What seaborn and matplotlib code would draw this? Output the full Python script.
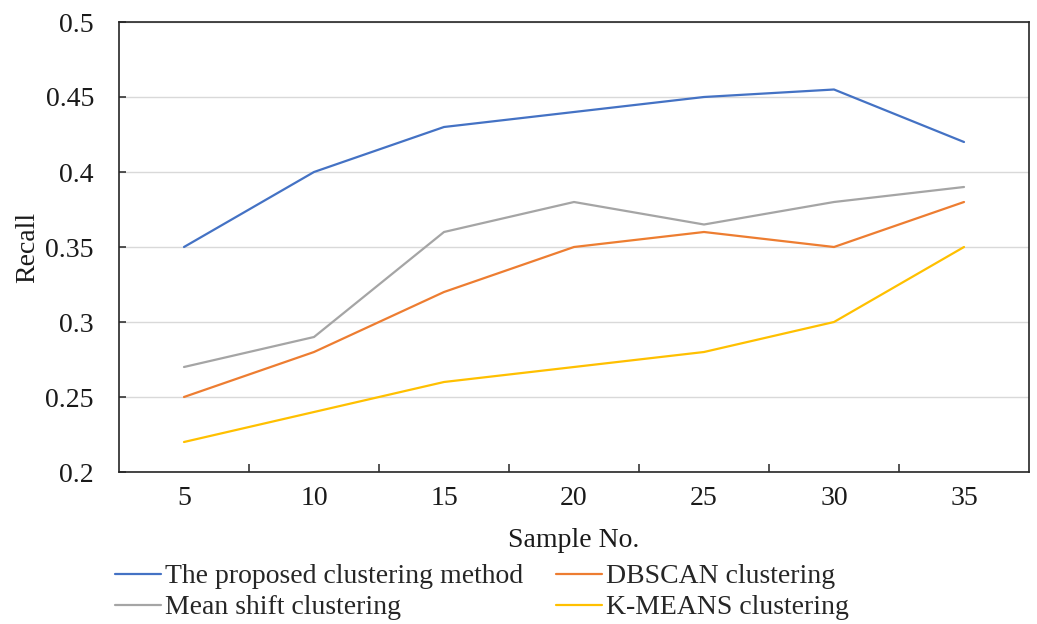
import numpy as np
import pandas as pd
import matplotlib
matplotlib.use("Agg")
import matplotlib.pyplot as plt
import seaborn as sns
from matplotlib.ticker import FixedLocator

samples = ["5", "10", "15", "20", "25", "30", "35"]
proposed = [0.35, 0.40, 0.43, 0.44, 0.45, 0.455, 0.42]
dbscan = [0.25, 0.28, 0.32, 0.35, 0.36, 0.35, 0.38]
meanshift = [0.27, 0.29, 0.36, 0.38, 0.365, 0.38, 0.39]
kmeans = [0.22, 0.24, 0.26, 0.27, 0.28, 0.30, 0.35]

names = ["The proposed clustering method", "DBSCAN clustering",
         "Mean shift clustering", "K-MEANS clustering"]
series = [proposed, dbscan, meanshift, kmeans]
colors = ["#4472C4", "#ED7D31", "#A5A5A5", "#FFC000"]

yticks = [0.2, 0.25, 0.3, 0.35, 0.4, 0.45, 0.5]
ytick_labels = ["0.2", "0.25", "0.3", "0.35", "0.4", "0.45", "0.5"]

rows = []
for n, vals in zip(names, series):
    for s, v in zip(samples, vals):
        rows.append({"Sample": s, "Recall": v, "Method": n})
df = pd.DataFrame(rows)

sns.set_theme(style="white")
plt.rcParams["font.family"] = ["Liberation Serif", "DejaVu Serif"]

fig = plt.figure(figsize=(10.37, 6.24), dpi=100)
ax = fig.add_axes([119/1037, 1-472/624, (1029-119)/1037, (472-22)/624])

sns.lineplot(data=df, x="Sample", y="Recall", hue="Method",
             hue_order=names, palette=colors, linewidth=1.6,
             sort=False, ax=ax, legend=False)

n = len(samples)
ax.set_xlim(-0.5, n - 0.5)
ax.set_ylim(0.2, 0.5)
ax.set_xticks(range(n))
ax.set_xticklabels(samples)
ax.xaxis.set_minor_locator(FixedLocator([i + 0.5 for i in range(n - 1)]))
ax.set_yticks(yticks)
ax.set_yticklabels(ytick_labels)

ax.grid(axis="y", color="#D9D9D9", linewidth=1.0)
ax.set_axisbelow(True)
for sp in ax.spines.values():
    sp.set_color("#262626")
    sp.set_linewidth(1.2)
    sp.set_visible(True)

ax.tick_params(axis="x", which="major", length=0, pad=10, labelsize=20, colors="#1a1a1a")
ax.tick_params(axis="x", which="minor", direction="in", length=6, width=1.1,
               color="#262626", bottom=True)
ax.tick_params(axis="y", which="major", direction="in", length=5, width=1.1,
               color="#262626", pad=18, labelsize=20, labelcolor="#1a1a1a", left=True)

ax.set_xlabel("Sample No.", fontsize=20, labelpad=12, color="#1a1a1a")
ax.set_ylabel("Recall", fontsize=20, labelpad=4, color="#1a1a1a")

handles = [plt.Line2D([], [], color=c, linewidth=1.6) for c in colors]
order = [0, 2, 1, 3]
fig.legend([handles[i] for i in order], [names[i] for i in order],
           loc="upper left", bbox_to_anchor=(115/1037, 1-564/624),
           ncol=2, frameon=False, fontsize=20, handlelength=1.65,
           handletextpad=0.15, columnspacing=1.2, labelspacing=0.2,
           borderpad=0, borderaxespad=0)

fig.savefig("out.png", dpi=100)
